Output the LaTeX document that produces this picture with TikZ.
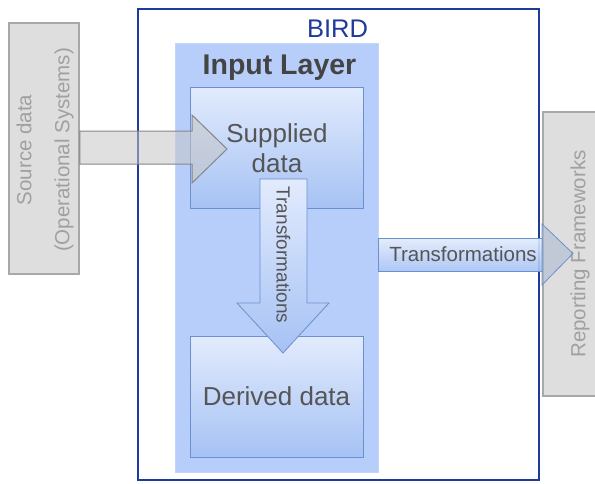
\documentclass[tikz,border=0pt]{standalone}
\usepackage{fontspec}
\setmainfont{Liberation Sans}
\usetikzlibrary{calc}
\definecolor{birdblue}{HTML}{1E3A9A}
\definecolor{layerfill}{HTML}{B8CEFA}
\definecolor{boxtop}{HTML}{E2EBFD}
\definecolor{boxbot}{HTML}{A6C2F4}
\definecolor{boxline}{HTML}{6A90D0}
\definecolor{greyfill}{HTML}{DEDEDE}
\definecolor{greyline}{HTML}{A8A8A8}
\definecolor{greytext}{HTML}{A0A0A0}
\definecolor{darktext}{HTML}{555555}
\tikzset{
  px/.style={x=1pt,y=-1pt},
  greybox/.style={draw=greyline,line width=1.5pt,fill=greyfill,inner sep=0pt},
  databox/.style={draw=boxline,line width=1pt,top color=boxtop,bottom color=boxbot,inner sep=0pt,
     minimum width=173pt,minimum height=121pt},
  bluearrow/.style={draw=boxline,line width=0.8pt,top color=boxtop,bottom color=boxbot},
  greyarrow/.style={draw=greyline!80!black,line width=1pt,fill=gray!45,fill opacity=0.55},
  headarrow/.style={draw=boxline,line width=0.8pt,fill=boxbot!60!gray!80,fill opacity=0.55},
}
\begin{document}
\begin{tikzpicture}[px]
\useasboundingbox (0,0) rectangle (595,483);
\clip (0,0) rectangle (595,483);
% outer grey boxes
\node[greybox,minimum width=70pt,minimum height=251pt] (src) at (44,148.5) {};
\node[text=greytext,rotate=90,align=center,font=\fontsize{20.5}{38}\selectfont] (srctxt) at (45,150)
  {Source data\\(Operational Systems)};
\node[greybox,minimum width=76pt,minimum height=284pt] (rep) at (581,254) {};
\node[text=greytext,rotate=90,font=\fontsize{20.5}{24}\selectfont] (reptxt) at (580,254) {Reporting Frameworks};
% BIRD box
\node[draw=birdblue,line width=2.2pt,fill=white,minimum width=401pt,minimum height=471pt,inner sep=0pt] (bird) at (338.5,244.5) {};
\node[text=birdblue,font=\fontsize{25.5}{28}\selectfont] (birdlbl) at (337.5,28.5) {BIRD};
% input layer
\node[fill=layerfill,draw=layerfill!85!white,minimum width=203pt,minimum height=429pt,inner sep=0pt] (layer) at (276.5,257.5) {};
\node[text=darktext!80!black,font=\bfseries\fontsize{28.5}{30}\selectfont] (layerlbl) at (279.5,68) {Input Layer};
% data boxes
\node[databox] (sup) at (276.5,148) {};
\node[text=darktext,align=center,font=\fontsize{26}{30}\selectfont] (suptxt) at (277,148) {Supplied\\data};
\node[databox] (der) at (276.5,396.5) {};
\node[text=darktext,font=\fontsize{26}{28}\selectfont] (dertxt) at (276.5,396) {Derived data};
% down arrow (Supplied -> Derived)
\coordinate (dtop) at (283,179);
\coordinate (dtip) at (283,353);
\draw[bluearrow] ($(dtop)+(-23,0)$) -- ($(dtop)+(24,0)$) -- (307,303) -- (329,303) -- (dtip)
   -- (237,303) -- (260,303) -- cycle;
\node[text=darktext,rotate=-90,font=\fontsize{19}{22}\selectfont] (dtxt) at (283.5,255) {Transformations};
% right arrow (BIRD -> Reporting)
\draw[bluearrow,fill opacity=0.9] (layer.east |- 0,238) rectangle (542,271);
\node[text=darktext,font=\fontsize{20.5}{24}\selectfont] (rtxt) at (463,254.5) {Transformations};
\draw[headarrow] (542,224) -- (573,253.5) -- (542,285) -- cycle;
\coordinate (rtip) at (573,253.5);
% source arrow (Source -> Supplied)
\draw[greyarrow] (src.east |- 0,131) -- (192,131) -- (192,115) -- (227,149) -- (192,183) -- (192,164) -- (src.east |- 0,164) -- cycle;
\end{tikzpicture}
\end{document}
